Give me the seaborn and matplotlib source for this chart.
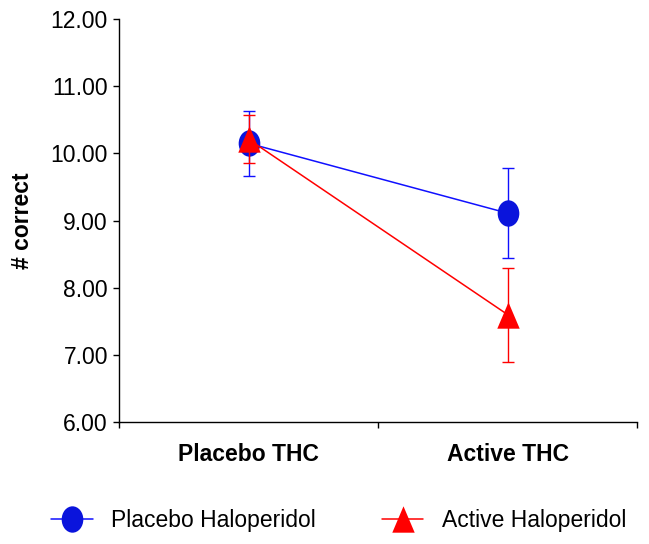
import numpy as np
import matplotlib
matplotlib.use("Agg")
import matplotlib.pyplot as plt
import seaborn as sns
from matplotlib.path import Path
from matplotlib.transforms import Affine2D

# data
conditions = ["Placebo THC", "Active THC"]
series = ["Placebo Haloperidol", "Active Haloperidol"]
placebo_halo = [10.15, 9.11]
placebo_halo_err = [0.48, 0.67]
active_halo = [10.21, 7.60]
active_halo_err = [0.36, 0.70]
yticks = [6, 7, 8, 9, 10, 11, 12]

sns.set_style("ticks")
plt.rcParams["font.family"] = ["Liberation Sans", "DejaVu Sans"]
plt.rcParams["text.color"] = "black"
plt.rcParams["axes.labelcolor"] = "black"
plt.rcParams["xtick.color"] = "black"
plt.rcParams["ytick.color"] = "black"

# slightly squashed markers, like the excel original
ellipse = Path.unit_circle().transformed(Affine2D().scale(0.82, 1.0))
tri = Path([(0, 1), (-0.85, -1), (0.85, -1), (0, 1)],
           [Path.MOVETO, Path.LINETO, Path.LINETO, Path.CLOSEPOLY])

fig = plt.figure(figsize=(6.49, 5.44), dpi=100)
ax = fig.add_axes([0.1834, 0.2243, 0.7981, 0.7407])

xpos = np.arange(len(conditions))
styles = [
    (placebo_halo, placebo_halo_err, "#1010ff", "#0a14dc", ellipse),
    (active_halo, active_halo_err, "#ff0000", "#ff0000", tri),
]
handles = []
for name, (vals, err, lc, mc, mk) in zip(series, styles):
    ax.errorbar(xpos, vals, yerr=err, fmt="none", ecolor=lc, elinewidth=1.0,
                capsize=4.3, capthick=1.0)
    sns.lineplot(x=xpos, y=vals, color=lc, linewidth=1.1, marker=mk,
                 markersize=19, markerfacecolor=mc, markeredgewidth=0,
                 errorbar=None, sort=False, ax=ax, label=name, legend=False)
    handles.append(plt.Line2D([], [], color=lc, linewidth=1.1, marker=mk,
                              markersize=19, markerfacecolor=mc,
                              markeredgewidth=0))

ax.set_ylim(6, 12)
ax.set_yticks(yticks)
ax.set_yticklabels([f"{t:.2f}" for t in yticks], fontsize=16.5)
ax.set_xlim(-0.5, 1.5)
ax.set_xticks([-0.5, 0.5, 1.5])
ax.set_xticklabels([])
ax.set_xticks(xpos, minor=True)
ax.set_xticklabels(conditions, minor=True, fontsize=16.5, fontweight="bold")
ax.tick_params(axis="x", which="minor", length=0, pad=15)
ax.tick_params(axis="both", which="major", length=4, width=1, color="black",
               pad=4)
ax.set_xlabel("")
ax.set_ylabel("# correct", fontsize=16.5, fontweight="bold", labelpad=12)

for s in ["top", "right"]:
    ax.spines[s].set_visible(False)
for s in ["left", "bottom"]:
    ax.spines[s].set_color("black")
    ax.spines[s].set_linewidth(1.0)

fig.legend(handles, series, loc="center", bbox_to_anchor=(0.522, 0.044),
           ncol=2, frameon=False, fontsize=16.5, handlelength=1.8,
           handletextpad=0.8, columnspacing=2.9)

fig.savefig("out.png", dpi=100)
